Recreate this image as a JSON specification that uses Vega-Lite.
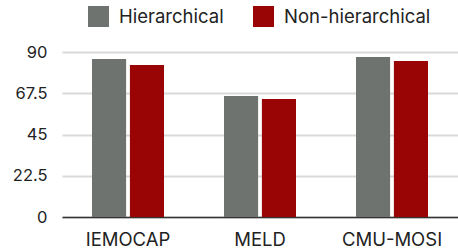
{
  "$schema": "https://vega.github.io/schema/vega-lite/v6.json",
  "autosize": "none",
  "width": 396,
  "height": 165,
  "padding": {"left": 62, "top": 52, "right": 0, "bottom": 33},
  "background": "white",
  "data": {
    "values": [
      {"dataset": "IEMOCAP", "model": "Hierarchical", "value": 86.2},
      {"dataset": "IEMOCAP", "model": "Non-hierarchical", "value": 82.9},
      {"dataset": "MELD", "model": "Hierarchical", "value": 66.0},
      {"dataset": "MELD", "model": "Non-hierarchical", "value": 64.4},
      {"dataset": "CMU-MOSI", "model": "Hierarchical", "value": 87.3},
      {"dataset": "CMU-MOSI", "model": "Non-hierarchical", "value": 85.1}
    ]
  },
  "mark": {"type": "bar"},
  "encoding": {
    "x": {
      "field": "dataset",
      "type": "nominal",
      "sort": ["IEMOCAP", "MELD", "CMU-MOSI"],
      "scale": {"paddingInner": 0.4545, "paddingOuter": 0.2273},
      "axis": {
        "title": null,
        "labelAngle": 0,
        "labelFont": "Inter",
        "labelFontSize": 18.5,
        "labelColor": "#222222",
        "labelPadding": 13,
        "ticks": false,
        "domainColor": "#333333",
        "domainWidth": 1.5
      }
    },
    "xOffset": {
      "field": "model",
      "type": "nominal",
      "scale": {"paddingInner": 0.1, "paddingOuter": 0}
    },
    "y": {
      "field": "value",
      "type": "quantitative",
      "scale": {"domain": [0, 90], "nice": false},
      "axis": {
        "title": null,
        "values": [0, 22.5, 45, 67.5, 90],
        "format": ".1~f",
        "labelFont": "Inter",
        "labelFontSize": 16.5,
        "labelColor": "#222222",
        "labelPadding": 15,
        "ticks": false,
        "domain": false,
        "gridColor": "#d9d9d9",
        "gridWidth": 2
      }
    },
    "color": {
      "field": "model",
      "type": "nominal",
      "scale": {"domain": ["Hierarchical", "Non-hierarchical"], "range": ["#6e7370", "#990505"]},
      "legend": {
        "title": null,
        "orient": "none",
        "legendX": 26,
        "legendY": -46,
        "direction": "horizontal",
        "columns": 2,
        "symbolType": "square",
        "symbolSize": 441,
        "symbolStrokeWidth": 0,
        "symbolOpacity": 1,
        "labelFont": "Inter",
        "labelFontSize": 18.5,
        "labelColor": "#222222",
        "labelOffset": 10,
        "columnPadding": 29
      }
    }
  },
  "config": {"view": {"stroke": null}}
}
